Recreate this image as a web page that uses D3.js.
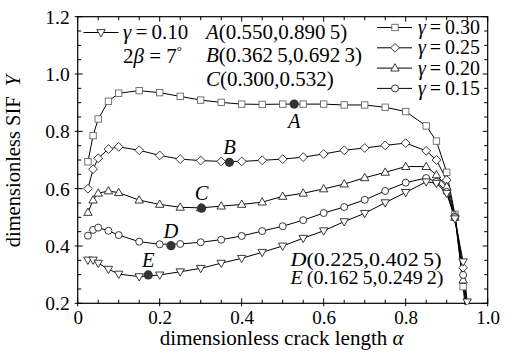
<!DOCTYPE html>
<html><head><meta charset="utf-8">
<script src="https://cdn.jsdelivr.net/npm/d3@7"></script>
<style>
html,body{margin:0;padding:0;background:#fff;}
svg{display:block;}
svg text{font-family:"Liberation Serif","DejaVu Serif",serif !important;fill:#000;}
</style></head>
<body><svg id="c" width="517" height="355"></svg>
<script>
const alpha = [0.025,0.0375,0.05,0.075,0.1,0.15,0.2,0.25,0.3,0.35,0.4,0.45,0.5,0.55,0.6,0.65,0.7,0.75,0.8,0.85,0.875,0.9,0.92,0.94,0.95];
const g030 = [0.694,0.785,0.843,0.905,0.933,0.942,0.935,0.922,0.909,0.901,0.895,0.894,0.895,0.895,0.895,0.892,0.892,0.884,0.869,0.819,0.766,0.657,0.51,0.258,0.12];
const g025 = [0.600,0.668,0.706,0.738,0.746,0.734,0.716,0.703,0.698,0.695,0.695,0.699,0.703,0.710,0.721,0.734,0.742,0.751,0.759,0.732,0.700,0.630,0.505,0.324,0.18];
const g020 = [0.517,0.560,0.584,0.592,0.586,0.560,0.545,0.535,0.533,0.539,0.545,0.553,0.573,0.584,0.599,0.616,0.638,0.657,0.677,0.677,0.648,0.607,0.50,0.281,0.15];
const g015 = [0.436,0.456,0.464,0.453,0.438,0.415,0.406,0.407,0.413,0.422,0.435,0.452,0.469,0.490,0.515,0.536,0.561,0.592,0.621,0.637,0.624,0.589,0.50,0.299,0.16];
const g010 = [0.351,0.351,0.340,0.319,0.302,0.293,0.299,0.310,0.322,0.340,0.357,0.378,0.400,0.427,0.453,0.485,0.514,0.551,0.587,0.624,0.619,0.584,0.495,0.345,0.205];
const seriesNames = ["γ = 0.30","γ = 0.25","γ = 0.20","γ = 0.15","γ = 0.10"];
const seriesMarkers = ["square","diamond","triangle","circle","triangleDown"];
const pointLabels = ["A","B","C","D","E"];
const pointX = [0.528,0.370,0.302,0.2276,0.172];
const pointY = [0.895,0.692,0.532,0.401,0.299];
const pointLabelPos = ["below","above","above","above","above"];
const notesTop = ["A(0.550,0.890\u20095)","B(0.362\u20095,0.692\u20093)","C(0.300,0.532)"];
const notesBottom = ["D(0.225,0.402\u20095)","E\u2009(0.162\u20095,0.249\u20092)"];
const xTicks = [0,0.2,0.4,0.6,0.8,1.0];
const xTickLabels = ["0","0.2","0.4","0.6","0.8","1.0"];
const yTicks = [0.2,0.4,0.6,0.8,1.0,1.2];
const yTickLabels = ["0.2","0.4","0.6","0.8","1.0","1.2"];

const FONT = '"Liberation Serif","DejaVu Serif",serif';
const svg = d3.select("#c");
const L=77.7,R=487.7,T=16.7,B=303.3;
const x = d3.scaleLinear().domain([0,1]).range([L,R]);
const y = d3.scaleLinear().domain([0.2,1.2]).range([B,T]);
const series = [g030,g025,g020,g015,g010];

svg.append("defs").append("clipPath").attr("id","clip")
  .append("rect").attr("x",L).attr("y",T).attr("width",R-L).attr("height",B-T+1.5);

// ticks
const minorX = d3.range(0,1.0001,0.05);
const minorY = d3.range(0.2,1.2001,0.05);
const tk = svg.append("g").attr("stroke","#000").attr("stroke-width",1);
minorX.forEach(v=>{
  const px=x(v);
  const major = xTicks.some(t=>Math.abs(t-v)<1e-6);
  tk.append("line").attr("x1",px).attr("x2",px).attr("y1",B+(major?3:0)).attr("y2",B-(major?5:3.5));
  tk.append("line").attr("x1",px).attr("x2",px).attr("y1",T).attr("y2",T+(major?5:3.5));
});
minorY.forEach(v=>{
  const py=y(v);
  const major = yTicks.some(t=>Math.abs(t-v)<1e-6);
  tk.append("line").attr("x1",L-(major?3:0)).attr("x2",L+(major?5:3.5)).attr("y1",py).attr("y2",py);
  tk.append("line").attr("x1",R).attr("x2",R-(major?5:3.5)).attr("y1",py).attr("y2",py);
});
svg.append("rect").attr("x",L).attr("y",T).attr("width",R-L).attr("height",B-T)
  .attr("fill","none").attr("stroke","#000").attr("stroke-width",1.2);

// tick labels via d3 axes
const xa = d3.axisBottom(x).tickValues(xTicks).tickFormat((d,i)=>xTickLabels[i]).tickSize(0).tickPadding(0);
const gx = svg.append("g").attr("transform",`translate(0,${B})`).call(xa).attr("font-family",FONT);
gx.select(".domain").remove();
gx.selectAll("text").attr("dy",null).attr("y",20.8).attr("font-size",19).attr("font-family",FONT);
const ya = d3.axisLeft(y).tickValues(yTicks).tickFormat((d,i)=>yTickLabels[i]).tickSize(0).tickPadding(0);
const gy = svg.append("g").attr("transform",`translate(${L},0)`).call(ya).attr("font-family",FONT);
gy.select(".domain").remove();
gy.selectAll("text").attr("x",-8).attr("dy","0.34em").attr("font-size",19.5).attr("font-family",FONT);

// titles
const xt = svg.append("text").attr("x",(L+R)/2-1).attr("y",345).attr("text-anchor","middle").attr("font-size",21).attr("font-family",FONT);
xt.append("tspan").text("dimensionless crack length ");
xt.append("tspan").attr("font-style","italic").text("α");
const yt = svg.append("text").attr("transform","translate(20,161) rotate(-90)").attr("text-anchor","middle").attr("font-size",20.5).attr("font-family",FONT);
yt.append("tspan").text("dimensionless SIF\u2002");
yt.append("tspan").attr("font-style","italic").text("Y");

function marker(sel, type, cx, cy){
  const st = type==="square" ? "#666" : "#222";
  if(type==="square") sel.append("rect").attr("x",cx-3.2).attr("y",cy-3.2).attr("width",6.4).attr("height",6.4);
  else if(type==="circle") sel.append("circle").attr("cx",cx).attr("cy",cy).attr("r",3.5);
  else if(type==="diamond") sel.append("path").attr("d",`M${cx},${cy-4.4}L${cx+4.4},${cy}L${cx},${cy+4.4}L${cx-4.4},${cy}Z`);
  else if(type==="triangle") sel.append("path").attr("d",`M${cx},${cy-4.4}L${cx+4.2},${cy+2.9}L${cx-4.2},${cy+2.9}Z`);
  else sel.append("path").attr("d",`M${cx},${cy+4.4}L${cx+4.2},${cy-2.9}L${cx-4.2},${cy-2.9}Z`);
  sel.selectAll("*").attr("fill","#fff").attr("stroke",st).attr("stroke-width",0.9);
}

const plot = svg.append("g").attr("clip-path","url(#clip)");
const line = d3.line().x((d,i)=>x(alpha[i])).y(d=>y(d));
series.forEach(s=>{
  plot.append("path").datum(s).attr("d",line).attr("fill","none").attr("stroke","#000").attr("stroke-width",1);
});
series.forEach((s,k)=>{
  s.forEach((v,i)=>{ marker(plot.append("g"), seriesMarkers[k], x(alpha[i]), y(v)); });
});

pointLabels.forEach((lab,i)=>{
  svg.append("circle").attr("cx",x(pointX[i])).attr("cy",y(pointY[i])).attr("r",4.6).attr("fill","#333");
  svg.append("text").attr("x",x(pointX[i])).attr("y",y(pointY[i])+(pointLabelPos[i]==="below"?24:-8))
    .attr("text-anchor","middle").attr("font-size",20.5).attr("font-style","italic").attr("font-family",FONT).text(lab);
});

// top-left legend
svg.append("line").attr("x1",83.5).attr("x2",118.5).attr("y1",32.5).attr("y2",32.5).attr("stroke","#000");
marker(svg.append("g"),"triangleDown",101,32.5);
const t1 = svg.append("text").attr("x",123).attr("y",38.5).attr("font-size",21).attr("font-family",FONT);
t1.append("tspan").attr("font-style","italic").text("γ");
t1.append("tspan").text("\u2009=\u20090.10");
const t2 = svg.append("text").attr("x",123).attr("y",63).attr("font-size",21).attr("font-family",FONT);
t2.append("tspan").text("2");
t2.append("tspan").attr("font-style","italic").text("β");
t2.append("tspan").text(" = 7");
t2.append("tspan").attr("dy",-8).attr("font-size",13).text("°");

notesTop.forEach((s,i)=>{
  const t = svg.append("text").attr("x",206).attr("y",38.5+i*23.5).attr("font-size",21).attr("font-family",FONT);
  t.append("tspan").attr("font-style","italic").text(s[0]);
  t.append("tspan").text(s.slice(1));
});
notesBottom.forEach((s,i)=>{
  const t = svg.append("text").attr("x",290.5).attr("y",265.5+i*18.5).attr("font-size",19.5).attr("font-family",FONT)
    .attr("textLength", i===0 ? 151 : 153).attr("lengthAdjust","spacingAndGlyphs");
  t.append("tspan").attr("font-style","italic").text(s[0]);
  t.append("tspan").text(s.slice(1));
});

[0,1,2,3].forEach(k=>{
  const cy = 27.5 + k*20.3;
  svg.append("line").attr("x1",377).attr("x2",412).attr("y1",cy).attr("y2",cy).attr("stroke","#000");
  marker(svg.append("g"), seriesMarkers[k], 395, cy);
  const t = svg.append("text").attr("x",418).attr("y",cy+6.5).attr("font-size",20).attr("font-family",FONT)
    .attr("textLength",62).attr("lengthAdjust","spacingAndGlyphs");
  t.append("tspan").attr("font-style","italic").text("γ");
  t.append("tspan").text(seriesNames[k].slice(1).replace(" = ","\u2009=\u2009"));
});
</script></body></html>
